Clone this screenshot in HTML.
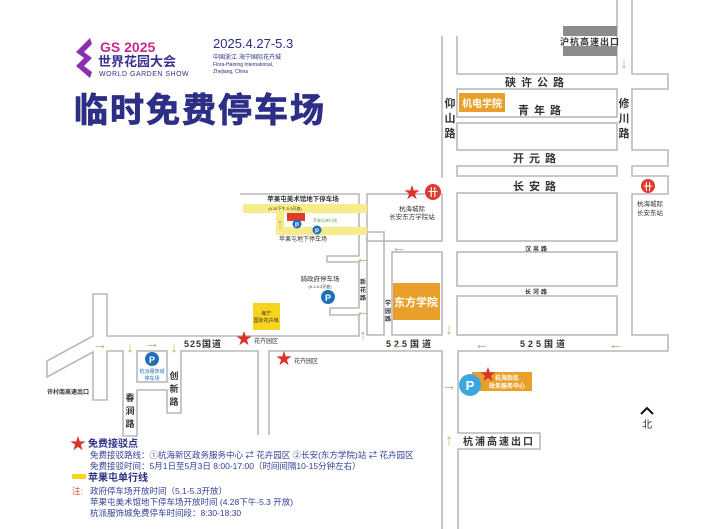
<!DOCTYPE html>
<html><head><meta charset="utf-8"><style>
html,body{margin:0;padding:0;background:#fff;}
svg{display:block;}
text{font-family:"Liberation Sans","Noto Sans CJK SC",sans-serif;}
</style></head><body>
<svg width="720" height="529" viewBox="0 0 720 529" xmlns="http://www.w3.org/2000/svg">
<rect width="720" height="529" fill="#fff"/>
<g fill="none" stroke="#b9b9b9" stroke-width="1.6">
<polyline points="442,36 442,178"/>
<polyline points="457,36 457,74 617,74 617,0"/>
<polyline points="632,0 632,74 668,74 668,89 632,89 632,150 668,150 668,166 632,166 632,176 668,176 668,194 632,194 632,335 668,335 668,351 458,351 458,433 540,433 540,449 458,449 458,529"/>
<rect x="457" y="89" width="160" height="28"/>
<rect x="457" y="123" width="160" height="27"/>
<rect x="457" y="166" width="160" height="10"/>
<rect x="457" y="193" width="160" height="48"/>
<rect x="457" y="252" width="160" height="34"/>
<rect x="457" y="296" width="160" height="39"/>
<rect x="367" y="194" width="75" height="47"/>
<rect x="392" y="252" width="50" height="83"/>
<rect x="367" y="232" width="17" height="103"/>
<polyline points="240,194 359,194 359,256 327,256 327,262 359,262 359,308 330,308 330,315 359,315 359,336 107,336 107,294 93,294 93,336 47,361 47,377 93,352 93,400 107,400 107,351 123,351 123,436 137,436 137,390 167,390 167,413 181,413 181,351 258,351 258,435"/>
<rect x="137" y="351" width="30" height="31"/>
<polyline points="269,435 269,351 442,351 442,529"/>
</g>
<rect x="563" y="26" width="54" height="10" fill="#8c8c8c"/>
<rect x="563" y="46" width="54" height="10" fill="#8c8c8c"/>
<text x="590" y="45" font-size="9" font-weight="bold" fill="#333" text-anchor="middle" letter-spacing="1">沪杭高速出口</text>
<g fill="#333" font-weight="bold" text-anchor="middle">
<text x="537" y="86" font-size="11" letter-spacing="5">硖许公路</text>
<text x="542" y="114" font-size="11" letter-spacing="5">青年路</text>
<text x="537" y="162" font-size="11" letter-spacing="5">开元路</text>
<text x="537" y="190" font-size="11" letter-spacing="5">长安路</text>
<text x="537" y="251" font-size="6" letter-spacing="2">汉帛路</text>
<text x="537" y="294" font-size="6" letter-spacing="2">长河路</text>
<text x="544" y="347" font-size="9" letter-spacing="3">525国道</text>
<text x="410" y="347" font-size="9" letter-spacing="3">525国道</text>
<text x="203" y="347" font-size="9" letter-spacing="1">525国道</text>
<text x="450" y="107" font-size="11">仰</text><text x="450" y="122" font-size="11">山</text><text x="450" y="137" font-size="11">路</text>
<text x="624" y="107" font-size="11">修</text><text x="624" y="122" font-size="11">川</text><text x="624" y="137" font-size="11">路</text>
<text x="363" y="284" font-size="6">新</text><text x="363" y="292" font-size="6">花</text><text x="363" y="300" font-size="6">路</text>
<text x="388" y="305" font-size="6">学</text><text x="388" y="313" font-size="6">园</text><text x="388" y="321" font-size="6">路</text>
<text x="130" y="401" font-size="9">春</text><text x="130" y="414" font-size="9">涧</text><text x="130" y="427" font-size="9">路</text>
<text x="174" y="379" font-size="9">创</text><text x="174" y="392" font-size="9">新</text><text x="174" y="405" font-size="9">路</text>
<text x="68" y="394" font-size="6">许村南高速出口</text>
<text x="499" y="445" font-size="10" letter-spacing="2">杭浦高速出口</text>
</g>
<rect x="459" y="93" width="46" height="19" fill="#e8a02a"/>
<text x="482" y="107" font-size="10" font-weight="bold" fill="#fff" text-anchor="middle">机电学院</text>
<rect x="393" y="283" width="47" height="37" fill="#e8a02a"/>
<text x="416" y="306" font-size="11" font-weight="bold" fill="#fff" text-anchor="middle">东方学院</text>
<rect x="253" y="303" width="27" height="27" fill="#f7d51e"/>
<text x="266" y="315" font-size="5" fill="#333" text-anchor="middle">海宁</text>
<text x="266" y="322" font-size="5" fill="#333" text-anchor="middle">国际花卉城</text>
<circle cx="433" cy="192" r="8" fill="#e03a2e"/><text x="433" y="196" font-size="10" font-weight="bold" fill="#fff" text-anchor="middle">卄</text>
<circle cx="648" cy="186" r="7" fill="#e03a2e"/><text x="648" y="190" font-size="9" font-weight="bold" fill="#fff" text-anchor="middle">卄</text>
<text x="412" y="211" font-size="6.5" fill="#333" text-anchor="middle">杭海城际</text>
<text x="412" y="219" font-size="6.5" fill="#333" text-anchor="middle">长安东方学院站</text>
<text x="650" y="206" font-size="6.5" fill="#333" text-anchor="middle">杭海城际</text>
<text x="650" y="215" font-size="6.5" fill="#333" text-anchor="middle">长安东站</text>
<text x="303" y="201" font-size="6.5" font-weight="bold" fill="#333" text-anchor="middle">苹果屯美术馆地下停车场</text>
<rect x="243" y="204" width="124" height="9" fill="#f7ec8a"/>
<rect x="276" y="213" width="8" height="22" fill="#f7ec8a"/>
<rect x="276" y="227" width="91" height="8" fill="#f7ec8a"/>
<text x="285" y="210" font-size="4" fill="#333" text-anchor="middle">(4.28下午-5.3开放)</text>
<rect x="287" y="213" width="18" height="8" fill="#e03a2e"/>
<text x="325" y="222" font-size="4" fill="#5a9e3a" text-anchor="middle">苹果屯单行线</text>
<circle cx="297" cy="224" r="4.5" fill="#1f6fb8"/><text x="297" y="227" font-size="6" font-weight="bold" fill="#fff" text-anchor="middle">P</text>
<circle cx="317" cy="230" r="4.5" fill="#1f6fb8"/><text x="317" y="233" font-size="6" font-weight="bold" fill="#fff" text-anchor="middle">P</text>
<text x="303" y="241" font-size="6" fill="#333" text-anchor="middle">苹果屯地下停车场</text>
<text x="320" y="281" font-size="6.5" fill="#333" text-anchor="middle">骑政府停车场</text>
<text x="320" y="288" font-size="4" fill="#333" text-anchor="middle">(5.1-5.3开放)</text>
<circle cx="328" cy="297" r="7" fill="#1f6fb8"/><text x="328" y="301" font-size="9" font-weight="bold" fill="#fff" text-anchor="middle">P</text>
<circle cx="152" cy="359" r="7" fill="#1f6fb8"/><text x="152" y="363" font-size="9" font-weight="bold" fill="#fff" text-anchor="middle">P</text>
<text x="152" y="373" font-size="5" fill="#1f6fb8" text-anchor="middle">杭派服饰城</text>
<text x="152" y="380" font-size="5" fill="#1f6fb8" text-anchor="middle">停车场</text>
<rect x="472" y="372" width="60" height="19" fill="#e8a02a"/>
<text x="507" y="380" font-size="6" font-weight="bold" fill="#fff" text-anchor="middle">杭海新区</text>
<text x="507" y="388" font-size="6" font-weight="bold" fill="#fff" text-anchor="middle">政务服务中心</text>
<circle cx="470" cy="385" r="11" fill="#3ea6de"/><text x="470" y="390" font-size="13" font-weight="bold" fill="#fff" text-anchor="middle">P</text>
<g fill="#d9342a" font-size="16" text-anchor="middle">
<text x="412" y="198">★</text>
<text x="488" y="380">★</text>
<text x="244" y="344">★</text>
<text x="284" y="364">★</text>
</g>
<text x="254" y="343" font-size="6" fill="#333">花卉园区</text>
<text x="294" y="363" font-size="6" fill="#333">花卉园区</text>
<g fill="#c9a566" font-size="15" font-weight="bold" text-anchor="middle">
<text x="624" y="68">↓</text>
<text x="449" y="334">↓</text>
<text x="399" y="349">←</text>
<text x="482" y="349">←</text>
<text x="616" y="349">←</text>
<text x="399" y="252">←</text>
<text x="363" y="263">←</text>
<text x="363" y="316">←</text>
<text x="363" y="340">↑</text>
<text x="449" y="390">→</text>
<text x="449" y="445">↑</text>
<text x="100" y="349">→</text>
<text x="152" y="348">→</text>
<text x="130" y="352">↓</text>
<text x="174" y="352">↓</text>
<text x="280" y="229">↑</text>
</g>
<polyline points="641,414 647,408 653,414" fill="none" stroke="#111" stroke-width="2"/>
<text x="647" y="428" font-size="10" fill="#333" text-anchor="middle">北</text>
<path d="M90,38 L76,52 L84,58 L76,66 L90,78 L92,72 L84,66 L92,58 L84,52 L92,44 Z" fill="#8a2fb0"/>
<text x="100" y="52" font-size="14" font-weight="bold" fill="#c42a8e">GS 2025</text>
<text x="98" y="66" font-size="13" font-weight="bold" fill="#3a2f90">世界花园大会</text>
<text x="99" y="76" font-size="7" fill="#3a2f90" letter-spacing="0.5">WORLD GARDEN SHOW</text>
<text x="213" y="48" font-size="13" fill="#2b2f7e">2025.4.27-5.3</text>
<text x="213" y="59" font-size="6" fill="#2b2f7e">中国浙江·海宁国际花卉城</text>
<text x="213" y="66" font-size="5" fill="#2b2f7e">Flora-Haining International,</text>
<text x="213" y="73" font-size="5" fill="#2b2f7e">Zhejiang, China</text>
<text x="74" y="122" font-size="34" font-weight="bold" fill="#2d2f86" stroke="#2d2f86" stroke-width="0.8" letter-spacing="2">临时免费停车场</text>
<text x="70" y="449" font-size="16" fill="#d9342a">★</text>
<text x="88" y="447" font-size="10" font-weight="bold" fill="#2d2f86">免费接驳点</text>
<text x="90" y="458" font-size="8.5" fill="#34409a">免费接驳路线：①杭海新区政务服务中心 ⇄ 花卉园区 ②长安(东方学院)站 ⇄ 花卉园区</text>
<text x="90" y="469" font-size="8.5" fill="#34409a">免费接驳时间：5月1日至5月3日 8:00-17:00（时间间隔10-15分钟左右）</text>
<rect x="72" y="474" width="14" height="5" fill="#f7d51e"/>
<text x="88" y="481" font-size="10" font-weight="bold" fill="#2d2f86">苹果屯单行线</text>
<text x="72" y="494" font-size="8.5" fill="#d9542a">注:</text>
<text x="90" y="494" font-size="8.5" fill="#34409a">政府停车场开放时间（5.1-5.3开放）</text>
<text x="90" y="505" font-size="8.5" fill="#34409a">苹果屯美术馆地下停车场开放时间 (4.28下午-5.3 开放)</text>
<text x="90" y="516" font-size="8.5" fill="#34409a">杭派服饰城免费停车时间段：8:30-18:30</text>
</svg>
</body></html>
